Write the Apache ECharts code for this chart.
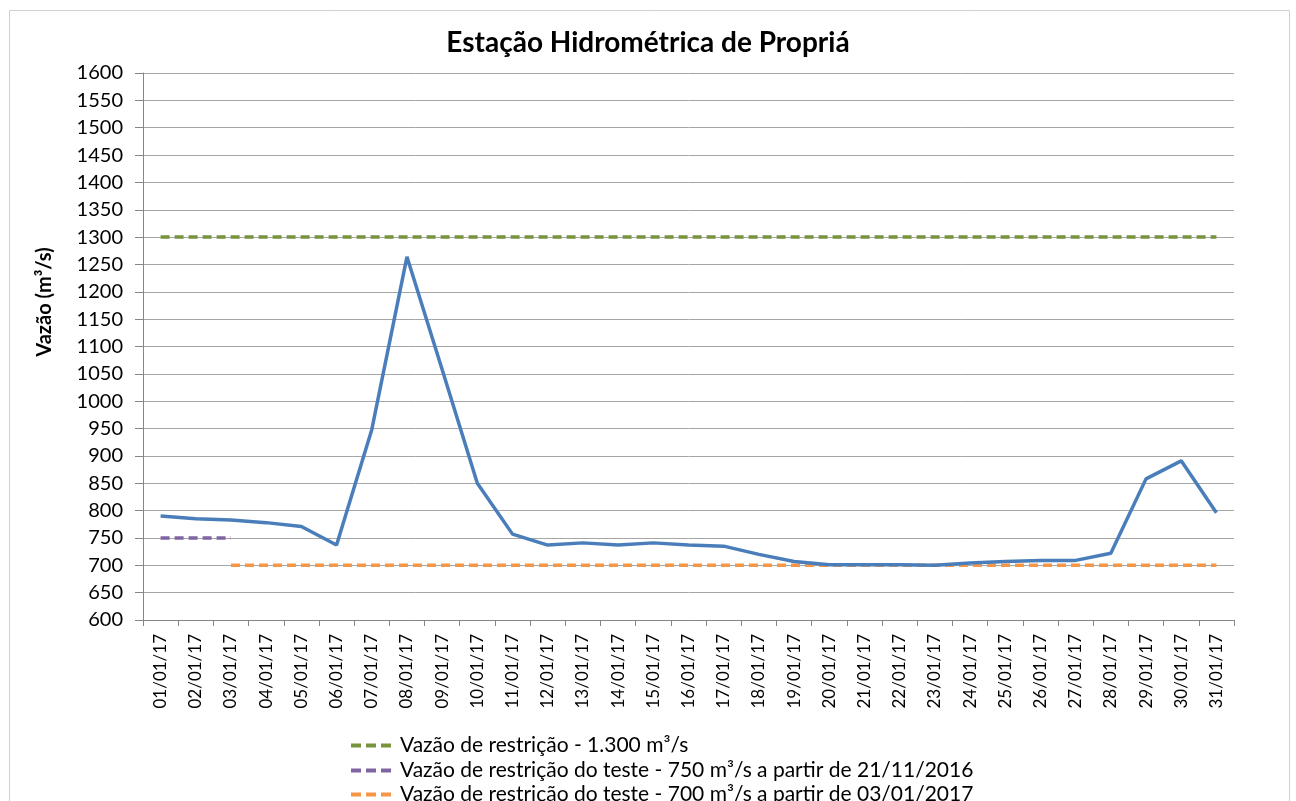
<!DOCTYPE html>
<html>
<head>
<meta charset="utf-8">
<script src="https://cdn.jsdelivr.net/npm/echarts@6/dist/echarts.min.js"></script>
<style>
html,body{margin:0;padding:0;background:#fff;}
#chart{width:1296px;height:801px;}
</style>
</head>
<body>
<div id="chart"></div>
<script>
var categories = ["01/01/17","02/01/17","03/01/17","04/01/17","05/01/17","06/01/17","07/01/17","08/01/17","09/01/17","10/01/17","11/01/17","12/01/17","13/01/17","14/01/17","15/01/17","16/01/17","17/01/17","18/01/17","19/01/17","20/01/17","21/01/17","22/01/17","23/01/17","24/01/17","25/01/17","26/01/17","27/01/17","28/01/17","29/01/17","30/01/17","31/01/17"];
var vazao = [790,785,783,778,771,737,948,1264,1058,850,757,737,741,737,741,737,735,720,707,701,701,701,700,704,707,709,709,722,858,891,796];
var restricao1300 = [1300,1300,1300,1300,1300,1300,1300,1300,1300,1300,1300,1300,1300,1300,1300,1300,1300,1300,1300,1300,1300,1300,1300,1300,1300,1300,1300,1300,1300,1300,1300];
var restricao750 = [750,750,750,null,null,null,null,null,null,null,null,null,null,null,null,null,null,null,null,null,null,null,null,null,null,null,null,null,null,null,null];
var restricao700 = [null,null,700,700,700,700,700,700,700,700,700,700,700,700,700,700,700,700,700,700,700,700,700,700,700,700,700,700,700,700,700];
var yMin = 600, yMax = 1600, yStep = 50;
var titleText = "Estação Hidrométrica de Propriá";
var yName = "Vazão (m³/s)";
var names = ["Vazão de restrição - 1.300 m³/s","Vazão de restrição do teste - 750 m³/s a partir de 21/11/2016","Vazão de restrição do teste - 700 m³/s a partir de 03/01/2017","Vazão"];

var FONT = "Lato";
var chart = echarts.init(document.getElementById('chart'), null, {renderer:'canvas'});
function dashed(name, data, color){
  return {name:name, type:'line', data:data, symbol:'none', showSymbol:false, silent:true,
    lineStyle:{color:color, width:3.5, type:[9,5]}, itemStyle:{color:color}, z:2};
}
function legendRow(name, top){
  return {data:[name], orient:'vertical', left:344, top:top, itemWidth:40, itemHeight:14, itemGap:6,
    itemStyle:{color:'transparent', borderWidth:0, opacity:0},
    lineStyle:{width:4, type:[10,5]},
    textStyle:{fontFamily:FONT, fontSize:21, color:'#000', padding:[0,0,0,4]}, selectedMode:false};
}
chart.setOption({
  animation:false,
  backgroundColor:'#fff',
  title:{text:titleText, left:'center', top:24, textStyle:{fontFamily:FONT, fontSize:28, fontWeight:'bold', color:'#000'}},
  graphic:[
    {type:'rect', shape:{x:9.5,y:10.5,width:1280,height:800}, style:{fill:'none', stroke:'#D0D0D0', lineWidth:1}, silent:true},
    {type:'text', x:45, y:302, rotation:Math.PI/2, style:{text:yName, fontFamily:FONT, fontSize:20, fontWeight:'bold', fill:'#000', textAlign:'center', textVerticalAlign:'middle'}}
  ],
  legend:[legendRow(names[0], 730), legendRow(names[1], 755), legendRow(names[2], 779)],
  grid:{left:143, right:62, top:73, bottom:181, containLabel:false},
  xAxis:{
    type:'category', data:categories, boundaryGap:true,
    axisLine:{lineStyle:{color:'#868686', width:1}},
    axisTick:{show:true, length:6, lineStyle:{color:'#868686'}},
    axisLabel:{rotate:90, margin:14, fontFamily:FONT, fontSize:17, color:'#000', interval:0},
    splitLine:{show:false}
  },
  yAxis:{
    type:'value', min:yMin, max:yMax, interval:yStep,
    axisLine:{show:true, lineStyle:{color:'#868686', width:1}},
    axisTick:{show:true, length:8, lineStyle:{color:'#868686'}},
    axisLabel:{margin:20, fontFamily:FONT, fontSize:20, color:'#000', formatter:function(v){return String(v);}},
    splitLine:{show:true, lineStyle:{color:'#A6A6A6', width:1}}
  },
  series:[
    dashed(names[0], restricao1300, '#77933C'),
    dashed(names[1], restricao750, '#8064A2'),
    dashed(names[2], restricao700, '#F79646'),
    {name:names[3], type:'line', data:vazao, symbol:'none', showSymbol:false, silent:true,
      lineStyle:{color:'#4A7EBB', width:3.5}, itemStyle:{color:'#4A7EBB'}, z:3}
  ]
});
</script>
</body>
</html>
